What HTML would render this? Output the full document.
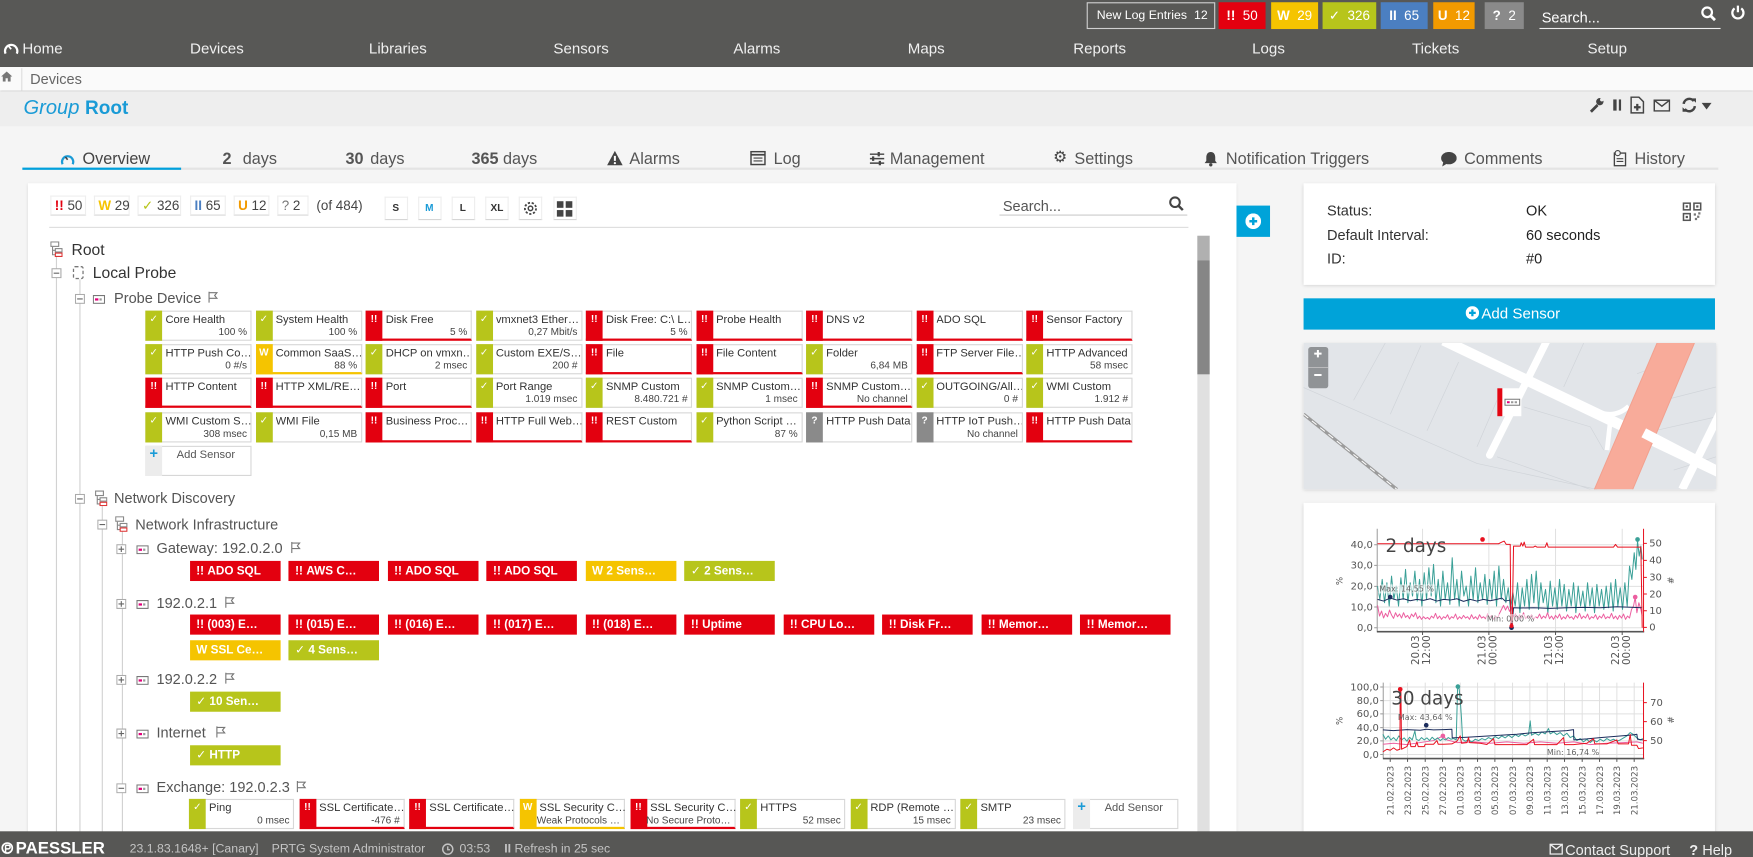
<!DOCTYPE html>
<html><head><meta charset="utf-8"><style>
*{box-sizing:border-box}
html,body{margin:0;padding:0}
body{width:1753px;height:857px;overflow:hidden;background:#f5f5f5;font-family:"Liberation Sans","DejaVu Sans",sans-serif}
#w{position:absolute;left:0;top:0;width:1568px;height:767px;transform-origin:0 0;transform:scale(1.11798,1.11734);background:#f5f5f5;overflow:hidden}
.a{position:absolute;white-space:nowrap}
.nv{position:absolute;top:35px;font-size:13.5px;color:#f0f0f0;line-height:18px;white-space:nowrap}
.bd{position:absolute;top:2px;height:24px;line-height:24px;color:#fff;font-size:12px;text-align:center;white-space:nowrap}
.tb{position:absolute;top:134px;font-size:14.5px;color:#555;line-height:18px;white-space:nowrap}
.t{position:absolute;width:95px;height:27px;background:#fff;border:1px solid #d7d7d7}
.t i{position:absolute;left:-1px;top:-1px;bottom:-1px;width:15px;color:#fff;font-style:normal;font-weight:bold;font-size:9px;text-align:center;line-height:15px}
.t p{margin:0;position:absolute;left:17px;top:2px;font-size:10px;line-height:12px;color:#333;width:76px;overflow:hidden;white-space:nowrap}
.t u{text-decoration:none;position:absolute;right:3px;top:13px;font-size:9px;line-height:11px;color:#444;white-space:nowrap}
.g i{background:#b7c51b}
.r{border-bottom:2px solid #e3000f}.r i{background:#e3000f;bottom:-2px}
.w{border-bottom:2px solid #f5c400}.w i{background:#f5c400;bottom:-2px}
.q i{background:#8a8a8a}
.ad i{background:#ececec;color:#1a9bd7;font-size:13px;line-height:14px}
.ad p{left:27px;color:#555}
.e{width:94px}
.c{position:absolute;width:81px;height:18px;color:#fff;font-size:10.5px;font-weight:bold;line-height:18px;padding-left:6px;white-space:nowrap;overflow:hidden}
.c b{margin-right:3px}
.cr{background:#e3000f}.cw{background:#f5c400}.cg{background:#b7c51b}
.n{position:absolute;font-size:13px;color:#555;line-height:16px;white-space:nowrap}
.ch{position:absolute;top:175px;height:18px;background:#fff;border:1px solid #eee;border-bottom-color:#d8d8d8;font-size:12px;line-height:16px;color:#444;padding-left:3px;white-space:nowrap}
.sb{position:absolute;top:176px;width:21px;height:21px;background:#fff;border:1px solid #eee;border-bottom-color:#d6d6d6;font-size:9px;font-weight:bold;line-height:19px;text-align:center;color:#333}
.vl{position:absolute;width:1px;background:#d2d2d2}
.sl{position:absolute;font-size:13px;color:#333;line-height:16px;white-space:nowrap}
.ft{position:absolute;top:754px;font-size:11px;color:#c4c4c4;line-height:13px;white-space:nowrap}
</style></head><body><div id="w">

<!-- HEADER -->
<div class="a" style="left:0;top:0;width:1568px;height:60px;background:#585856"></div>
<div class="a" style="left:972px;top:2px;width:115px;height:24px;border:1px solid #d0d0d0;color:#fff;font-size:11px;line-height:22px;padding-left:8px">New Log Entries<span style="position:absolute;left:95px">12</span></div>
<div class="bd" style="left:1090px;width:42px;background:#e3000f"><b>!!</b>&nbsp; 50</div>
<div class="bd" style="left:1137px;width:42px;background:#f5c400"><b>W</b>&nbsp; 29</div>
<div class="bd" style="left:1183px;width:48px;background:#b7c51b"><b>✓</b>&nbsp; 326</div>
<div class="bd" style="left:1235px;width:42px;background:#4b7fc1"><b>II</b>&nbsp; 65</div>
<div class="bd" style="left:1282px;width:37px;background:#f29a00"><b>U</b>&nbsp; 12</div>
<div class="bd" style="left:1328px;width:35px;background:#8a8a8a"><b>?</b>&nbsp; 2</div>
<div class="a" style="left:1379px;top:7px;font-size:13px;color:#fff;line-height:18px">Search...</div>
<div class="a" style="left:1377px;top:25px;width:162px;height:1px;background:#eee"></div>
<svg class="a" style="left:1521px;top:5px" width="14" height="14" viewBox="0 0 14 14"><circle cx="6" cy="6" r="4.3" fill="none" stroke="#fff" stroke-width="2"/><path d="M9 9l4 4" stroke="#fff" stroke-width="2.5"/></svg>
<svg class="a" style="left:1548px;top:4px" width="13" height="14" viewBox="0 0 13 14"><path d="M3.5 3.5a5 5 0 1 0 6 0" fill="none" stroke="#fff" stroke-width="2"/><path d="M6.5 1v6" stroke="#fff" stroke-width="2"/></svg>

<svg class="a" style="left:3px;top:37px" width="14" height="12" viewBox="0 0 14 12"><path d="M2 11A5.5 5.5 0 1 1 12 11" fill="none" stroke="#fff" stroke-width="2"/><path d="M7 7L4.5 4" stroke="#fff" stroke-width="1.5"/></svg>
<div class="nv" style="left:20px">Home</div>
<div class="nv" style="left:170px">Devices</div>
<div class="nv" style="left:330px">Libraries</div>
<div class="nv" style="left:495px">Sensors</div>
<div class="nv" style="left:656px">Alarms</div>
<div class="nv" style="left:812px">Maps</div>
<div class="nv" style="left:960px">Reports</div>
<div class="nv" style="left:1120px">Logs</div>
<div class="nv" style="left:1263px">Tickets</div>
<div class="nv" style="left:1420px">Setup</div>

<!-- BREADCRUMB -->
<div class="a" style="left:0;top:60px;width:1568px;height:21px;background:#fafafa;box-shadow:0 1px 2px rgba(0,0,0,.18)"></div>
<svg class="a" style="left:1px;top:64px" width="10" height="9" viewBox="0 0 10 9"><path d="M5 0L0 4.5h1.5V9h2.5V6h2v3h2.5V4.5H10z" fill="#777"/></svg>
<div class="a" style="left:19px;top:61px;width:1px;height:20px;background:#ddd"></div>
<div class="a" style="left:27px;top:62px;font-size:13px;color:#666;line-height:18px">Devices</div>

<!-- TITLE -->
<div class="a" style="left:0;top:82px;width:1568px;height:31px;background:#eeeeee"></div>
<div class="a" style="left:21px;top:85px;font-size:18px;line-height:22px;color:#1a9bd6"><i>Group</i>&nbsp;<b style="font-size:17px">Root</b></div>
<svg class="a" style="left:1421px;top:87px" width="14" height="14" viewBox="0 0 14 14"><path d="M2 13L8 7" stroke="#444" stroke-width="2.5"/><circle cx="10" cy="4" r="3.3" fill="#444"/><circle cx="11.8" cy="2.2" r="1.6" fill="#eee"/></svg>
<div class="a" style="left:1443px;top:89px;width:2.5px;height:10px;background:#444"></div>
<div class="a" style="left:1447.5px;top:89px;width:2.5px;height:10px;background:#444"></div>
<svg class="a" style="left:1458px;top:86px" width="13" height="16" viewBox="0 0 13 16"><path d="M1 1h7l4 4v10H1z" fill="none" stroke="#444" stroke-width="1.3"/><path d="M6.5 7v6M3.5 10h6" stroke="#444" stroke-width="2"/></svg>
<svg class="a" style="left:1479px;top:89px" width="15" height="11" viewBox="0 0 15 11"><rect x=".7" y=".7" width="13.6" height="9.6" fill="none" stroke="#444" stroke-width="1.3"/><path d="M1 1l6.5 5 6.5-5" fill="none" stroke="#444" stroke-width="1.3"/></svg>
<svg class="a" style="left:1504px;top:87px" width="14" height="14" viewBox="0 0 14 14"><path d="M2 6A5 5 0 0 1 11 3.5" fill="none" stroke="#444" stroke-width="2.2"/><path d="M12 8A5 5 0 0 1 3 10.5" fill="none" stroke="#444" stroke-width="2.2"/><path d="M9 1l4 0 0 4z" fill="#444"/><path d="M5 13l-4 0 0-4z" fill="#444"/></svg>
<svg class="a" style="left:1522px;top:92px" width="9" height="6" viewBox="0 0 9 6"><path d="M0 0h9L4.5 6z" fill="#444"/></svg>

<!-- TABS -->
<svg class="a" style="left:54px;top:136px" width="13" height="12" viewBox="0 0 13 12"><path d="M2 11A5 5 0 1 1 11 11" fill="none" stroke="#1a9bd6" stroke-width="2"/><path d="M6.5 7L4.5 4.5" stroke="#444" stroke-width="1.4"/></svg>
<div class="tb" style="left:73.8px;color:#444">Overview</div>
<div class="tb" style="left:199px"><b>2</b><span style="margin-left:10px">days</span></div>
<div class="tb" style="left:309px"><b>30</b><span style="margin-left:6px">days</span></div>
<div class="tb" style="left:421.7px"><b>365</b><span style="margin-left:4px">days</span></div>
<svg class="a" style="left:543px;top:135px" width="14" height="13" viewBox="0 0 14 13"><path d="M7 0L14 13H0z" fill="#444"/><path d="M7 4.5v4.5" stroke="#fff" stroke-width="1.8"/><circle cx="7" cy="11" r="1" fill="#fff"/></svg>
<div class="tb" style="left:563px">Alarms</div>
<svg class="a" style="left:671px;top:135px" width="14" height="13" viewBox="0 0 14 13"><rect x=".7" y=".7" width="12.6" height="11.6" fill="none" stroke="#444" stroke-width="1.4"/><path d="M.7 3.5h12.6" stroke="#444" stroke-width="1.6"/><path d="M3 6.5h8M3 9h8" stroke="#444"/></svg>
<div class="tb" style="left:692px">Log</div>
<svg class="a" style="left:778px;top:136px" width="13" height="12" viewBox="0 0 13 12"><path d="M0 2h13M0 6h13M0 10h13" stroke="#444" stroke-width="1.3"/><path d="M8 0v4M3 4v4M9 8v4" stroke="#444" stroke-width="2"/></svg>
<div class="tb" style="left:796px">Management</div>
<div class="a" style="left:942px;top:132px;font-family:'DejaVu Sans',sans-serif;font-size:14px;color:#444;line-height:18px">⚙</div>
<div class="tb" style="left:961px">Settings</div>
<svg class="a" style="left:1077px;top:135px" width="12" height="14" viewBox="0 0 12 14"><path d="M6 1C3 1 2 3.5 2 6v3L0.5 11h11L10 9V6c0-2.5-1-5-4-5z" fill="#444"/><circle cx="6" cy="12.5" r="1.5" fill="#444"/></svg>
<div class="tb" style="left:1096.5px">Notification Triggers</div>
<svg class="a" style="left:1288.5px;top:136px" width="14" height="13" viewBox="0 0 14 13"><ellipse cx="7" cy="5.5" rx="7" ry="5.5" fill="#444"/><path d="M2 9L1 13 6 10z" fill="#444"/></svg>
<div class="tb" style="left:1309.6px">Comments</div>
<svg class="a" style="left:1443px;top:134px" width="12" height="15" viewBox="0 0 12 15"><rect x="1" y="3" width="10" height="11.3" fill="none" stroke="#444" stroke-width="1.2"/><circle cx="4" cy="3" r="2.3" fill="#f5f5f5" stroke="#444"/><path d="M3 8h6M3 10.5h6" stroke="#444"/></svg>
<div class="tb" style="left:1462px">History</div>
<div class="a" style="left:20px;top:150px;width:1517px;height:2px;background:#e4e4e4"></div>
<div class="a" style="left:20px;top:150px;width:142px;height:2px;background:#00a0dc"></div>

<!-- MAIN CARD -->
<div class="a" style="left:25px;top:164px;width:1081px;height:620px;background:#fff;box-shadow:0 1px 3px rgba(0,0,0,.12)"></div>
<div class="ch" style="left:45px;width:32px"><b style="color:#e3000f">!!</b> 50</div>
<div class="ch" style="left:84px;width:32px"><b style="color:#f5c400">W</b> 29</div>
<div class="ch" style="left:123px;width:39px"><b style="color:#b7c51b">✓</b> 326</div>
<div class="ch" style="left:170px;width:32px"><b style="color:#4b7fc1">II</b> 65</div>
<div class="ch" style="left:209px;width:32px"><b style="color:#f29a00">U</b> 12</div>
<div class="ch" style="left:248px;width:28px"><span style="color:#777">?</span> 2</div>
<div class="a" style="left:283px;top:176px;font-size:12px;color:#444;line-height:16px">(of 484)</div>
<div class="sb" style="left:343.5px">S</div>
<div class="sb" style="left:373.5px;color:#1a9bd7">M</div>
<div class="sb" style="left:403.5px">L</div>
<div class="sb" style="left:434px">XL</div>
<div class="sb" style="left:464px"><svg width="13" height="13" viewBox="0 0 13 13" style="margin-top:3px"><circle cx="6.5" cy="6.5" r="5" fill="none" stroke="#444" stroke-width="1.6" stroke-dasharray="2 1.5"/><circle cx="6.5" cy="6.5" r="2" fill="none" stroke="#444" stroke-width="1.3"/></svg></div>
<div class="sb" style="left:494.5px"><svg width="14" height="14" viewBox="0 0 14 14" style="margin-top:3px"><rect x="0" y="0" width="6" height="6" fill="#444"/><rect x="8" y="0" width="6" height="6" fill="#444"/><rect x="0" y="8" width="6" height="6" fill="#444"/><rect x="8" y="8" width="6" height="6" fill="#444"/></svg></div>
<div class="a" style="left:897px;top:177px;font-size:13px;color:#555;line-height:16px">Search...</div>
<div class="a" style="left:894px;top:192px;width:168px;height:1px;background:#ccc"></div>
<svg class="a" style="left:1045px;top:175px" width="14" height="14" viewBox="0 0 14 14"><circle cx="6" cy="6" r="4.3" fill="none" stroke="#444" stroke-width="1.8"/><path d="M9 9l4 4" stroke="#444" stroke-width="2.2"/></svg>
<div class="a" style="left:44px;top:203px;width:1019px;height:1px;background:#ddd"></div>

<!-- scrollbar -->
<div class="a" style="left:1071px;top:211px;width:11px;height:540px;background:#e0e0e0"></div>
<div class="a" style="left:1071px;top:211px;width:11px;height:22px;background:#b0b0b0"></div>
<div class="a" style="left:1071px;top:233px;width:11px;height:102px;background:#868686"></div>

<!-- tree lines -->
<div class="vl" style="left:50px;top:229px;height:540px"></div>
<div class="vl" style="left:71px;top:250px;height:520px"></div>
<div class="vl" style="left:91px;top:452px;height:320px"></div>
<div class="vl" style="left:109px;top:475px;height:300px"></div>

<!-- Root -->
<svg class="a" style="left:45px;top:216px" width="11" height="14" viewBox="0 0 11 14"><rect x=".5" y=".5" width="7" height="4" fill="#fff" stroke="#888"/><path d="M2 5v7h2.5M2 8h2.5" stroke="#888" fill="none"/><rect x="4.5" y="6.5" width="6" height="3" fill="#fff" stroke="#888"/><rect x="4.5" y="10.5" width="6" height="3" fill="#fff" stroke="#d33"/></svg>
<div class="n" style="left:64px;top:215px;font-size:14px;color:#333">Root</div>
<!-- Local Probe -->
<svg class="a" style="left:46px;top:240px" width="9" height="9"><rect x=".5" y=".5" width="8" height="8" fill="#fff" stroke="#aaa"/><path d="M2 4.5h5" stroke="#666"/></svg>
<svg class="a" style="left:65px;top:238px" width="10" height="12" viewBox="0 0 10 12"><rect x=".7" y=".7" width="8.6" height="10.6" rx="1.5" fill="#fff" stroke="#777" stroke-width="1.2" stroke-dasharray="3 2"/></svg>
<div class="n" style="left:83px;top:236px;font-size:14px;color:#333">Local Probe</div>
<!-- Probe Device -->
<svg class="a" style="left:67px;top:263px" width="9" height="9"><rect x=".5" y=".5" width="8" height="8" fill="#fff" stroke="#aaa"/><path d="M2 4.5h5" stroke="#666"/></svg>
<svg class="a" style="left:83px;top:264px" width="11" height="8" viewBox="0 0 11 8"><rect x=".5" y=".5" width="10" height="7" fill="#fff" stroke="#777"/><rect x="2" y="3" width="3" height="2" fill="#e2007a"/><rect x="6" y="3" width="2" height="2" fill="#999"/></svg>
<div class="n" style="left:102px;top:259px">Probe Device</div>
<svg class="a" style="left:186px;top:261px" width="9" height="10" viewBox="0 0 9 10"><path d="M1 0v10M1 1h7l-2 2.5 2 2.5H1" fill="none" stroke="#777"/></svg>

<!-- Probe Device sensors -->
<div class="t g" style="left:130px;top:278px"><i>✓</i><p>Core Health</p><u>100 %</u></div>
<div class="t g" style="left:228.5px;top:278px"><i>✓</i><p>System Health</p><u>100 %</u></div>
<div class="t r" style="left:327px;top:278px"><i>!!</i><p>Disk Free</p><u>5 %</u></div>
<div class="t g" style="left:425.5px;top:278px"><i>✓</i><p>vmxnet3 Ether…</p><u>0,27 Mbit/s</u></div>
<div class="t r" style="left:524px;top:278px"><i>!!</i><p>Disk Free: C:\ L…</p><u>5 %</u></div>
<div class="t r" style="left:622.5px;top:278px"><i>!!</i><p>Probe Health</p></div>
<div class="t r" style="left:721px;top:278px"><i>!!</i><p>DNS v2</p></div>
<div class="t r" style="left:819.5px;top:278px"><i>!!</i><p>ADO SQL</p></div>
<div class="t r" style="left:918px;top:278px"><i>!!</i><p>Sensor Factory</p></div>

<div class="t g" style="left:130px;top:308px"><i>✓</i><p>HTTP Push Co…</p><u>0 #/s</u></div>
<div class="t w" style="left:228.5px;top:308px"><i>W</i><p>Common SaaS…</p><u>88 %</u></div>
<div class="t g" style="left:327px;top:308px"><i>✓</i><p>DHCP on vmxn…</p><u>2 msec</u></div>
<div class="t g" style="left:425.5px;top:308px"><i>✓</i><p>Custom EXE/S…</p><u>200 #</u></div>
<div class="t r" style="left:524px;top:308px"><i>!!</i><p>File</p></div>
<div class="t r" style="left:622.5px;top:308px"><i>!!</i><p>File Content</p></div>
<div class="t g" style="left:721px;top:308px"><i>✓</i><p>Folder</p><u>6,84 MB</u></div>
<div class="t r" style="left:819.5px;top:308px"><i>!!</i><p>FTP Server File…</p></div>
<div class="t g" style="left:918px;top:308px"><i>✓</i><p>HTTP Advanced</p><u>58 msec</u></div>

<div class="t r" style="left:130px;top:338px"><i>!!</i><p>HTTP Content</p></div>
<div class="t r" style="left:228.5px;top:338px"><i>!!</i><p>HTTP XML/RE…</p></div>
<div class="t r" style="left:327px;top:338px"><i>!!</i><p>Port</p></div>
<div class="t g" style="left:425.5px;top:338px"><i>✓</i><p>Port Range</p><u>1.019 msec</u></div>
<div class="t g" style="left:524px;top:338px"><i>✓</i><p>SNMP Custom</p><u>8.480.721 #</u></div>
<div class="t g" style="left:622.5px;top:338px"><i>✓</i><p>SNMP Custom…</p><u>1 msec</u></div>
<div class="t r" style="left:721px;top:338px"><i>!!</i><p>SNMP Custom…</p><u>No channel</u></div>
<div class="t g" style="left:819.5px;top:338px"><i>✓</i><p>OUTGOING/All…</p><u>0 #</u></div>
<div class="t g" style="left:918px;top:338px"><i>✓</i><p>WMI Custom</p><u>1.912 #</u></div>

<div class="t g" style="left:130px;top:368.5px"><i>✓</i><p>WMI Custom S…</p><u>308 msec</u></div>
<div class="t g" style="left:228.5px;top:368.5px"><i>✓</i><p>WMI File</p><u>0,15 MB</u></div>
<div class="t r" style="left:327px;top:368.5px"><i>!!</i><p>Business Proc…</p></div>
<div class="t r" style="left:425.5px;top:368.5px"><i>!!</i><p>HTTP Full Web…</p></div>
<div class="t r" style="left:524px;top:368.5px"><i>!!</i><p>REST Custom</p></div>
<div class="t g" style="left:622.5px;top:368.5px"><i>✓</i><p>Python Script …</p><u>87 %</u></div>
<div class="t q" style="left:721px;top:368.5px"><i>?</i><p>HTTP Push Data</p></div>
<div class="t q" style="left:819.5px;top:368.5px"><i>?</i><p>HTTP IoT Push…</p><u>No channel</u></div>
<div class="t r" style="left:918px;top:368.5px"><i>!!</i><p>HTTP Push Data</p></div>

<div class="t ad" style="left:130px;top:399px"><i>+</i><p>Add Sensor</p></div>

<!-- Network Discovery -->
<svg class="a" style="left:67px;top:442px" width="9" height="9"><rect x=".5" y=".5" width="8" height="8" fill="#fff" stroke="#aaa"/><path d="M2 4.5h5" stroke="#666"/></svg>
<svg class="a" style="left:85px;top:439px" width="11" height="14" viewBox="0 0 11 14"><rect x=".5" y=".5" width="7" height="4" fill="#fff" stroke="#888"/><path d="M2 5v7h2.5M2 8h2.5" stroke="#888" fill="none"/><rect x="4.5" y="6.5" width="6" height="3" fill="#fff" stroke="#888"/><rect x="4.5" y="10.5" width="6" height="3" fill="#fff" stroke="#d33"/></svg>
<div class="n" style="left:102px;top:438px">Network Discovery</div>
<!-- Network Infrastructure -->
<svg class="a" style="left:87px;top:465px" width="9" height="9"><rect x=".5" y=".5" width="8" height="8" fill="#fff" stroke="#aaa"/><path d="M2 4.5h5" stroke="#666"/></svg>
<svg class="a" style="left:103px;top:462px" width="11" height="14" viewBox="0 0 11 14"><rect x=".5" y=".5" width="7" height="4" fill="#fff" stroke="#888"/><path d="M2 5v7h2.5M2 8h2.5" stroke="#888" fill="none"/><rect x="4.5" y="6.5" width="6" height="3" fill="#fff" stroke="#888"/><rect x="4.5" y="10.5" width="6" height="3" fill="#fff" stroke="#d33"/></svg>
<div class="n" style="left:121px;top:462px">Network Infrastructure</div>

<!-- Gateway -->
<svg class="a" style="left:104px;top:487px" width="9" height="9"><rect x=".5" y=".5" width="8" height="8" fill="#fff" stroke="#aaa"/><path d="M2 4.5h5M4.5 2v5" stroke="#666"/></svg>
<svg class="a" style="left:122px;top:488px" width="11" height="8" viewBox="0 0 11 8"><rect x=".5" y=".5" width="10" height="7" fill="#fff" stroke="#777"/><rect x="2" y="3" width="3" height="2" fill="#e2007a"/><rect x="6" y="3" width="2" height="2" fill="#999"/></svg>
<div class="n" style="left:140px;top:483px">Gateway: 192.0.2.0</div>
<svg class="a" style="left:260px;top:485px" width="9" height="10" viewBox="0 0 9 10"><path d="M1 0v10M1 1h7l-2 2.5 2 2.5H1" fill="none" stroke="#777"/></svg>
<div class="c cr" style="left:169.5px;top:502px"><b>!!</b>ADO SQL</div>
<div class="c cr" style="left:258px;top:502px"><b>!!</b>AWS C…</div>
<div class="c cr" style="left:346.5px;top:502px"><b>!!</b>ADO SQL</div>
<div class="c cr" style="left:435px;top:502px"><b>!!</b>ADO SQL</div>
<div class="c cw" style="left:523.5px;top:502px"><b>W</b>2 Sens…</div>
<div class="c cg" style="left:612px;top:502px"><b>✓</b>2 Sens…</div>

<!-- 192.0.2.1 -->
<svg class="a" style="left:104px;top:536px" width="9" height="9"><rect x=".5" y=".5" width="8" height="8" fill="#fff" stroke="#aaa"/><path d="M2 4.5h5M4.5 2v5" stroke="#666"/></svg>
<svg class="a" style="left:122px;top:537px" width="11" height="8" viewBox="0 0 11 8"><rect x=".5" y=".5" width="10" height="7" fill="#fff" stroke="#777"/><rect x="2" y="3" width="3" height="2" fill="#e2007a"/><rect x="6" y="3" width="2" height="2" fill="#999"/></svg>
<div class="n" style="left:140px;top:532px">192.0.2.1</div>
<svg class="a" style="left:201px;top:534px" width="9" height="10" viewBox="0 0 9 10"><path d="M1 0v10M1 1h7l-2 2.5 2 2.5H1" fill="none" stroke="#777"/></svg>
<div class="c cr" style="left:169.5px;top:550px"><b>!!</b>(003) E…</div>
<div class="c cr" style="left:258px;top:550px"><b>!!</b>(015) E…</div>
<div class="c cr" style="left:346.5px;top:550px"><b>!!</b>(016) E…</div>
<div class="c cr" style="left:435px;top:550px"><b>!!</b>(017) E…</div>
<div class="c cr" style="left:523.5px;top:550px"><b>!!</b>(018) E…</div>
<div class="c cr" style="left:612px;top:550px"><b>!!</b>Uptime</div>
<div class="c cr" style="left:700.5px;top:550px"><b>!!</b>CPU Lo…</div>
<div class="c cr" style="left:789px;top:550px"><b>!!</b>Disk Fr…</div>
<div class="c cr" style="left:877.5px;top:550px"><b>!!</b>Memor…</div>
<div class="c cr" style="left:966px;top:550px"><b>!!</b>Memor…</div>
<div class="c cw" style="left:169.5px;top:572.5px"><b>W</b>SSL Ce…</div>
<div class="c cg" style="left:258px;top:572.5px"><b>✓</b>4 Sens…</div>

<!-- 192.0.2.2 -->
<svg class="a" style="left:104px;top:604px" width="9" height="9"><rect x=".5" y=".5" width="8" height="8" fill="#fff" stroke="#aaa"/><path d="M2 4.5h5M4.5 2v5" stroke="#666"/></svg>
<svg class="a" style="left:122px;top:605px" width="11" height="8" viewBox="0 0 11 8"><rect x=".5" y=".5" width="10" height="7" fill="#fff" stroke="#777"/><rect x="2" y="3" width="3" height="2" fill="#e2007a"/><rect x="6" y="3" width="2" height="2" fill="#999"/></svg>
<div class="n" style="left:140px;top:600px">192.0.2.2</div>
<svg class="a" style="left:201px;top:602px" width="9" height="10" viewBox="0 0 9 10"><path d="M1 0v10M1 1h7l-2 2.5 2 2.5H1" fill="none" stroke="#777"/></svg>
<div class="c cg" style="left:169.5px;top:619px"><b>✓</b>10 Sen…</div>

<!-- Internet -->
<svg class="a" style="left:104px;top:652px" width="9" height="9"><rect x=".5" y=".5" width="8" height="8" fill="#fff" stroke="#aaa"/><path d="M2 4.5h5M4.5 2v5" stroke="#666"/></svg>
<svg class="a" style="left:122px;top:653px" width="11" height="8" viewBox="0 0 11 8"><rect x=".5" y=".5" width="10" height="7" fill="#fff" stroke="#777"/><rect x="2" y="3" width="3" height="2" fill="#e2007a"/><rect x="6" y="3" width="2" height="2" fill="#999"/></svg>
<div class="n" style="left:140px;top:648px">Internet</div>
<svg class="a" style="left:193px;top:650px" width="9" height="10" viewBox="0 0 9 10"><path d="M1 0v10M1 1h7l-2 2.5 2 2.5H1" fill="none" stroke="#777"/></svg>
<div class="c cg" style="left:169.5px;top:667px"><b>✓</b>HTTP</div>

<!-- Exchange -->
<svg class="a" style="left:104px;top:701px" width="9" height="9"><rect x=".5" y=".5" width="8" height="8" fill="#fff" stroke="#aaa"/><path d="M2 4.5h5" stroke="#666"/></svg>
<svg class="a" style="left:122px;top:702px" width="11" height="8" viewBox="0 0 11 8"><rect x=".5" y=".5" width="10" height="7" fill="#fff" stroke="#777"/><rect x="2" y="3" width="3" height="2" fill="#e2007a"/><rect x="6" y="3" width="2" height="2" fill="#999"/></svg>
<div class="n" style="left:140px;top:697px">Exchange: 192.0.2.3</div>
<svg class="a" style="left:265px;top:699px" width="9" height="10" viewBox="0 0 9 10"><path d="M1 0v10M1 1h7l-2 2.5 2 2.5H1" fill="none" stroke="#777"/></svg>
<div class="t e g" style="left:169px;top:714.5px"><i>✓</i><p>Ping</p><u>0 msec</u></div>
<div class="t e r" style="left:267.5px;top:714.5px"><i>!!</i><p>SSL Certificate…</p><u>-476 #</u></div>
<div class="t e r" style="left:366px;top:714.5px"><i>!!</i><p>SSL Certificate…</p></div>
<div class="t e w" style="left:464.5px;top:714.5px"><i>W</i><p>SSL Security C…</p><u>Weak Protocols …</u></div>
<div class="t e r" style="left:563.5px;top:714.5px"><i>!!</i><p>SSL Security C…</p><u>No Secure Proto…</u></div>
<div class="t e g" style="left:662px;top:714.5px"><i>✓</i><p>HTTPS</p><u>52 msec</u></div>
<div class="t e g" style="left:760.5px;top:714.5px"><i>✓</i><p>RDP (Remote …</p><u>15 msec</u></div>
<div class="t e g" style="left:859px;top:714.5px"><i>✓</i><p>SMTP</p><u>23 msec</u></div>
<div class="t e ad" style="left:960px;top:714.5px"><i>+</i><p>Add Sensor</p></div>

<!-- blue + button -->
<div class="a" style="left:1106px;top:184px;width:30px;height:28px;background:#00a3d9"></div>
<svg class="a" style="left:1114px;top:191px" width="14" height="14" viewBox="0 0 14 14"><circle cx="7" cy="7" r="7" fill="#fff"/><path d="M7 3.5v7M3.5 7h7" stroke="#00a3d9" stroke-width="2.2"/></svg>

<!-- STATUS CARD -->
<div class="a" style="left:1166px;top:164px;width:368px;height:91px;background:#fff;box-shadow:0 1px 3px rgba(0,0,0,.15)"></div>
<div class="sl" style="left:1187px;top:180.5px">Status:</div>
<div class="sl" style="left:1365px;top:180.5px;color:#222">OK</div>
<div class="sl" style="left:1187px;top:202.5px">Default Interval:</div>
<div class="sl" style="left:1365px;top:202.5px;color:#222">60 seconds</div>
<div class="sl" style="left:1187px;top:224px">ID:</div>
<div class="sl" style="left:1365px;top:224px;color:#222">#0</div>
<svg class="a" style="left:1505px;top:181px" width="17" height="17" viewBox="0 0 17 17"><rect x=".8" y=".8" width="6" height="6" fill="none" stroke="#555" stroke-width="1.4"/><rect x="10.2" y=".8" width="6" height="6" fill="none" stroke="#555" stroke-width="1.4"/><rect x=".8" y="10.2" width="6" height="6" fill="none" stroke="#555" stroke-width="1.4"/><rect x="2.8" y="2.8" width="2" height="2" fill="#555"/><rect x="12.2" y="2.8" width="2" height="2" fill="#555"/><rect x="2.8" y="12.2" width="2" height="2" fill="#555"/><path d="M10 10h2v2h-2zM13 12h2v2h-2zM11 14h2v2h-2zM14 9h2v2h-2z" fill="#777"/></svg>

<!-- ADD SENSOR BUTTON -->
<div class="a" style="left:1166px;top:266.5px;width:368px;height:28.5px;background:#00a3d9"></div>
<svg class="a" style="left:1311px;top:274px" width="12" height="12" viewBox="0 0 12 12"><circle cx="6" cy="6" r="6" fill="#fff"/><path d="M6 3v6M3 6h6" stroke="#00a3d9" stroke-width="2"/></svg>
<div class="a" style="left:1325px;top:272px;font-size:13.5px;color:#fff;line-height:17px">Add Sensor</div>

<!-- MAP -->
<div class="a" style="left:1166px;top:306.5px;width:369px;height:131px;box-shadow:0 1px 3px rgba(0,0,0,.15);overflow:hidden">
<svg width="369" height="131" viewBox="40 158 1237 440" preserveAspectRatio="none" style="display:block">
<rect x="40" y="158" width="1237" height="440" fill="#e2e5e9"/>
<g stroke="#d0d4d9" stroke-width="2" fill="none">
<path d="M190 330L285 158M300 372L392 165M410 422L505 215M40 292L560 520L920 598M560 470L620 330M620 500L900 598M700 350L900 410L940 480M760 158L725 245M880 158L820 290M1040 250L1180 200M1120 330L1277 290M1100 420L1277 380M1150 540L1277 500"/>
</g>
<path d="M460 150L1290 548" stroke="#fff" stroke-width="32"/>
<path d="M770 150L598 495" stroke="#fff" stroke-width="22" stroke-linecap="round"/>
<path d="M925 365Q975 385 1015 348M960 390L950 480" stroke="#fff" stroke-width="14" fill="none"/>
<polygon points="1100,158 1212,158 1027,598 912,598" fill="#f8ab9a"/>
<path d="M1100 158L912 598M1212 158L1027 598" stroke="#f2a08e" stroke-width="3"/>
<path d="M1290 365L1175 598" stroke="#fff" stroke-width="24"/>
<path d="M1060 428L1290 548" stroke="#fff" stroke-width="30"/>
<path d="M40 372L320 598" stroke="#9c9c9c" stroke-width="10"/>
<path d="M40 372L320 598" stroke="#fff" stroke-width="3" stroke-dasharray="18 14"/>
<rect x="54" y="170" width="60" height="124" rx="8" fill="#909396"/>
<path d="M54 232H114" stroke="#c8c8c8" stroke-width="2"/>
<path d="M72 190h22M83 179v22M72 254h22" stroke="#fff" stroke-width="6"/>
<rect x="621" y="294" width="72" height="84" fill="#fff"/>
<rect x="621" y="294" width="15" height="84" fill="#e30613"/>
<rect x="644" y="327" width="44" height="18" fill="#fff" stroke="#777" stroke-width="3"/>
<rect x="650" y="333" width="8" height="6" fill="#e2007a"/>
<rect x="662" y="333" width="7" height="6" fill="#999"/>
<rect x="673" y="333" width="7" height="6" fill="#999"/>
</svg></div>

<!-- CHART CARD -->
<div class="a" style="left:1166px;top:449.6px;width:368px;height:320px;background:#fff;box-shadow:0 1px 3px rgba(0,0,0,.15)"></div>

<svg class="a" style="left:1162.8px;top:447.2px" width="405.2" height="178.9" viewBox="0 0 1359 600" font-family="DejaVu Sans, sans-serif">
<path d="M230 136H1030M230 198H1030M230 261H1030M230 323H1030M230 385H1030M367 88V397M566 88V397M766 88V397M966 88V397" stroke="#e0e0e0" stroke-width="3"/>
<path d="M231 88V397" stroke="#9a9a9a" stroke-width="3"/>
<path d="M222 136h9M222 198h9M222 261h9M222 323h9M222 385h9" stroke="#9a9a9a" stroke-width="3"/>
<path d="M367 397v10M566 397v10M766 397v10M966 397v10" stroke="#555" stroke-width="3"/>
<g fill="none" stroke-width="3" stroke-linejoin="round">
<polyline stroke="#3aa097" points="232,260 239,300 246,240 253,310 260,250 267,320 274,230 281,300 288,260 295,320 302,235 309,300 316,210 323,310 330,250 337,290 344,215 351,305 358,240 365,320 372,220 379,300 386,205 393,290 400,195 407,310 414,240 421,320 428,215 435,300 442,250 449,315 456,175 463,300 470,240 477,320 484,215 491,290 498,260 505,320 512,230 519,300 526,205 533,310 540,250 547,300 554,225 561,315 568,240 575,300 582,215 589,320 596,200 603,300 610,240 617,310 624,265 631,330 638,280 645,320 652,250 659,340 666,265 673,320 680,240 687,330 694,225 701,310 708,215 715,330 722,250 729,310 736,270 743,340 750,245 757,320 764,265 771,330 778,240 785,320 792,255 799,335 806,270 813,320 820,250 827,340 834,260 841,320 848,275 855,335 862,250 869,320 876,265 883,340 890,255 897,320 904,270 911,330 918,260 925,325 932,250 939,335 946,240 953,320 960,265 967,330 974,250 981,320 988,200 995,240 1002,160 1007,210 1012,125 1017,170 1022,140 1026,180"/>
<polyline stroke="#ec5fa0" points="232,318 238,350 244,335 250,356 256,342 262,352 268,332 274,347 280,357 286,340 292,352 298,344 304,356 310,340 316,354 322,348 328,358 334,344 340,352 346,340 352,358 358,350 364,360 370,352 376,358 382,354 388,360 394,350 400,356 406,342 412,358 418,350 424,360 430,352 436,356 442,346 448,360 454,352 460,356 466,344 472,360 478,352 484,358 490,348 496,356 502,352 508,360 514,346 520,358 526,352 532,360 538,346 544,356 550,352 556,358 562,344 568,356 574,348 580,360 586,350 592,356 598,342 604,330 610,318 616,332 622,320 628,336 634,322 640,352 646,344 652,360 658,346 664,356 670,340 676,358 682,350 688,356 694,346 700,360 706,352 712,356 718,344 724,358 730,350 736,356 742,340 748,358 754,350 760,360 766,348 772,356 778,344 784,360 790,352 796,358 802,346 808,356 814,352 820,360 826,348 832,356 838,342 844,358 850,350 856,356 862,344 868,360 874,352 880,356 886,346 892,360 898,350 904,356 910,344 916,358 922,352 928,356 934,342 940,358 946,350 952,360 958,348 964,356 970,344 976,360 982,350 988,356 994,330 1000,320 1005,293 1010,340 1016,310 1022,330 1026,350"/>
<polyline stroke="#1b2c5c" points="232,300 250,305 270,296 290,302 310,298 330,304 350,300 370,303 390,298 410,305 430,300 450,302 470,298 490,306 510,300 530,305 550,300 570,304 590,300 605,296 615,305 630,302 635,385 640,325 660,326 700,325 750,327 800,325 850,324 900,325 950,322 1000,324 1025,325"/>
<polyline stroke="#e8101f" points="232,133 540,133 550,133 595,133 605,128 612,125 618,135 630,135 632,383 636,383 640,140 660,140 663,130 668,140 672,128 676,143 700,143 705,140 710,143 735,143 740,130 744,143 940,143 946,135 952,143 1022,143 1026,385"/>
</g>
<path d="M230 397H1032" stroke="#555" stroke-width="5"/>
<path d="M1030 88V397" stroke="#e8101f" stroke-width="3"/>
<path d="M1030 132h10M1030 183h10M1030 234h10M1030 284h10M1030 334h10M1030 384h10" stroke="#e8101f" stroke-width="3"/>
<circle cx="270" cy="293" r="7" fill="#1b2c5c"/>
<circle cx="547" cy="120" r="7" fill="#e8101f"/>
<circle cx="634" cy="385" r="7" fill="#1b2c5c"/>
<circle cx="634" cy="380" r="6" fill="#e8101f"/>
<circle cx="1012" cy="120" r="7" fill="#3aa097"/>
<circle cx="1005" cy="293" r="7" fill="#ec5fa0"/>
<text x="256" y="158" font-size="55" fill="#444">2 days</text>
<rect x="234" y="255" width="170" height="27" fill="#fff" fill-opacity=".55"/>
<text x="237" y="277" font-size="24" fill="#666">Max: 14,55 %</text>
<rect x="557" y="344" width="150" height="27" fill="#fff" fill-opacity=".55"/>
<text x="560" y="366" font-size="24" fill="#666">Min: 0,00 %</text>
<g font-size="30" fill="#555" text-anchor="end">
<text x="218" y="146">40,0</text><text x="218" y="208">30,0</text><text x="218" y="271">20,0</text><text x="218" y="333">10,0</text><text x="218" y="395">0,0</text>
</g>
<g font-size="30" fill="#555">
<text x="1047" y="142">50</text><text x="1047" y="193">40</text><text x="1047" y="244">30</text><text x="1047" y="294">20</text><text x="1047" y="344">10</text><text x="1047" y="394">0</text>
</g>
<text transform="translate(127,245) rotate(-90)" font-size="26" fill="#555" text-anchor="middle">%</text>
<text transform="translate(1122,243) rotate(-90)" font-size="26" fill="#555" text-anchor="middle">#</text>
<g font-size="31" fill="#555">
<text transform="translate(356,497) rotate(-90)">20.03</text><text transform="translate(389,497) rotate(-90)">12:00</text>
<text transform="translate(556,497) rotate(-90)">21.03</text><text transform="translate(589,497) rotate(-90)">00:00</text>
<text transform="translate(756,497) rotate(-90)">21.03</text><text transform="translate(789,497) rotate(-90)">12:00</text>
<text transform="translate(956,497) rotate(-90)">22.03</text><text transform="translate(989,497) rotate(-90)">00:00</text>
</g>
</svg>

<svg class="a" style="left:1162.8px;top:599.3px" width="405.2" height="143.1" viewBox="0 0 1359 480" font-family="DejaVu Sans, sans-serif">
<path d="M248 53H1030M248 94H1030M248 134H1030M248 175H1030M248 215H1030M248 256H1030M270 40V268M322 40V268M375 40V268M427 40V268M480 40V268M532 40V268M584 40V268M637 40V268M689 40V268M741 40V268M793 40V268M846 40V268M898 40V268M950 40V268M1002 40V268" stroke="#e0e0e0" stroke-width="3"/>
<path d="M249 40V268" stroke="#9a9a9a" stroke-width="3"/>
<path d="M240 53h9M240 94h9M240 134h9M240 175h9M240 215h9M240 256h9" stroke="#9a9a9a" stroke-width="3"/>
<path d="M270 268v10M322 268v10M375 268v10M427 268v10M480 268v10M532 268v10M584 268v10M637 268v10M689 268v10M741 268v10M793 268v10M846 268v10M898 268v10M950 268v10M1002 268v10" stroke="#555" stroke-width="3"/>
<g fill="none" stroke-width="3" stroke-linejoin="round">
<polyline stroke="#ec5fa0" points="248,225 280,222 320,226 360,220 400,214 428,200 440,212 470,220 520,218 570,222 620,218 670,222 720,218 770,222 820,218 870,226 920,222 970,220 1010,218 1028,222"/>
<polyline stroke="#3aa097" points="248,195 256,210 264,200 272,212 280,205 288,214 296,200 304,212 312,206 320,216 328,204 336,212 344,185 348,210 356,214 364,205 372,212 380,206 388,214 396,204 404,212 412,206 420,214 428,208 436,212 444,205 452,210 460,208 468,212 472,60 476,52 480,90 484,150 487,210 495,216 505,212 515,218 525,210 535,214 545,208 555,212 565,205 575,210 585,202 595,208 605,200 615,206 625,198 635,205 645,196 655,202 665,194 675,200 685,195 690,155 694,198 705,192 715,198 725,188 735,194 745,178 750,194 760,188 770,196 780,190 790,200 800,192 810,205 820,200 830,214 840,208 850,218 860,210 870,220 880,212 890,218 900,210 910,216 920,208 930,214 940,210 950,216 960,212 970,206 980,200 990,190 1000,196 1010,206 1020,212 1028,208"/>
<polyline stroke="#1b2c5c" points="248,182 280,184 320,181 360,183 378,180 400,182 430,181 455,180 456,206 500,204 550,201 600,198 650,195 700,190 750,187 800,184 820,181 821,212 860,209 900,205 950,201 1000,197 1010,195 1012,210 1028,212"/>
<polyline stroke="#e8101f" points="248,248 260,240 270,243 280,236 290,243 299,240 300,60 302,60 304,240 320,232 328,212 332,232 345,232 350,218 354,232 372,232 375,225 400,225 410,214 414,225 430,225 455,224 470,216 480,200 484,222 500,220 505,205 508,220 540,222 560,226 580,208 584,226 620,226 640,226 660,226 680,226 700,210 703,226 740,226 770,226 790,205 793,226 820,226 830,225 860,222 880,208 884,224 920,224 950,212 954,224 985,224 990,196 994,228 1010,228 1015,238 1028,236"/>
</g>
<path d="M248 268H1032" stroke="#555" stroke-width="5"/>
<path d="M1030 40V268" stroke="#e8101f" stroke-width="3"/>
<path d="M1030 100h10M1030 157h10M1030 214h10" stroke="#e8101f" stroke-width="3"/>
<circle cx="300" cy="60" r="7" fill="#e8101f"/>
<circle cx="473" cy="52" r="7" fill="#3aa097"/>
<circle cx="378" cy="168" r="7" fill="#1b2c5c"/>
<circle cx="428" cy="200" r="7" fill="#ec5fa0"/>
<text x="273" y="106" font-size="55" fill="#444">30 days</text>
<text x="293" y="152" font-size="24" fill="#666">Max: 43,64 %</text>
<text x="740" y="257" font-size="24" fill="#666">Min: 16,74 %</text>
<g font-size="30" fill="#555" text-anchor="end">
<text x="236" y="63">100,0</text><text x="236" y="104">80,0</text><text x="236" y="144">60,0</text><text x="236" y="185">40,0</text><text x="236" y="225">20,0</text><text x="236" y="266">0,0</text>
</g>
<g font-size="30" fill="#555">
<text x="1050" y="110">70</text><text x="1050" y="167">60</text><text x="1050" y="224">50</text>
</g>
<text transform="translate(127,155) rotate(-90)" font-size="26" fill="#555" text-anchor="middle">%</text>
<text transform="translate(1122,152) rotate(-90)" font-size="26" fill="#555" text-anchor="middle">#</text>
<g font-size="26" fill="#555">
<text transform="translate(280,438) rotate(-90)" textLength="148">21.02.2023</text>
<text transform="translate(332,438) rotate(-90)" textLength="148">23.02.2023</text>
<text transform="translate(385,438) rotate(-90)" textLength="148">25.02.2023</text>
<text transform="translate(437,438) rotate(-90)" textLength="148">27.02.2023</text>
<text transform="translate(490,438) rotate(-90)" textLength="148">01.03.2023</text>
<text transform="translate(542,438) rotate(-90)" textLength="148">03.03.2023</text>
<text transform="translate(594,438) rotate(-90)" textLength="148">05.03.2023</text>
<text transform="translate(647,438) rotate(-90)" textLength="148">07.03.2023</text>
<text transform="translate(699,438) rotate(-90)" textLength="148">09.03.2023</text>
<text transform="translate(751,438) rotate(-90)" textLength="148">11.03.2023</text>
<text transform="translate(803,438) rotate(-90)" textLength="148">13.03.2023</text>
<text transform="translate(856,438) rotate(-90)" textLength="148">15.03.2023</text>
<text transform="translate(908,438) rotate(-90)" textLength="148">17.03.2023</text>
<text transform="translate(960,438) rotate(-90)" textLength="148">19.03.2023</text>
<text transform="translate(1012,438) rotate(-90)" textLength="148">21.03.2023</text>
</g>
</svg>

<!-- FOOTER -->
<div class="a" style="left:0;top:744px;width:1568px;height:23px;background:#575755"></div>
<svg class="a" style="left:1px;top:753px" width="11" height="12" viewBox="0 0 11 12"><circle cx="5.5" cy="6" r="4.5" fill="none" stroke="#fff" stroke-width="1.5"/><path d="M4 3.5v6M4 3.5h2.5a1.6 1.6 0 0 1 0 3.2H4" fill="none" stroke="#fff" stroke-width="1.3"/></svg>
<div class="a" style="left:14px;top:751px;font-size:15px;font-weight:bold;color:#fff;line-height:17px">PAESSLER</div>
<div class="ft" style="left:116px">23.1.83.1648+ [Canary]</div>
<div class="ft" style="left:243px">PRTG System Administrator</div>
<svg class="a" style="left:395px;top:754px" width="11" height="12" viewBox="0 0 11 12"><circle cx="5.5" cy="6" r="4.5" fill="none" stroke="#c4c4c4" stroke-width="1.3"/><path d="M5.5 3.5V6.5H7.5" fill="none" stroke="#c4c4c4" stroke-width="1.2"/></svg>
<div class="ft" style="left:411px">03:53</div>
<div class="ft" style="left:451px"><b>II</b> Refresh in 25 sec</div>
<svg class="a" style="left:1386px;top:755px" width="12" height="10" viewBox="0 0 12 10"><rect x=".6" y=".6" width="10.8" height="8.8" fill="none" stroke="#eee" stroke-width="1.2"/><path d="M1 1l5 4 5-4" fill="none" stroke="#eee" stroke-width="1.2"/></svg>
<div class="a" style="left:1400px;top:752.5px;font-size:13px;color:#eee;line-height:15px">Contact Support</div>
<div class="a" style="left:1511px;top:752.5px;font-size:13px;color:#eee;line-height:15px"><b>?</b> Help</div>

</div></body></html>
